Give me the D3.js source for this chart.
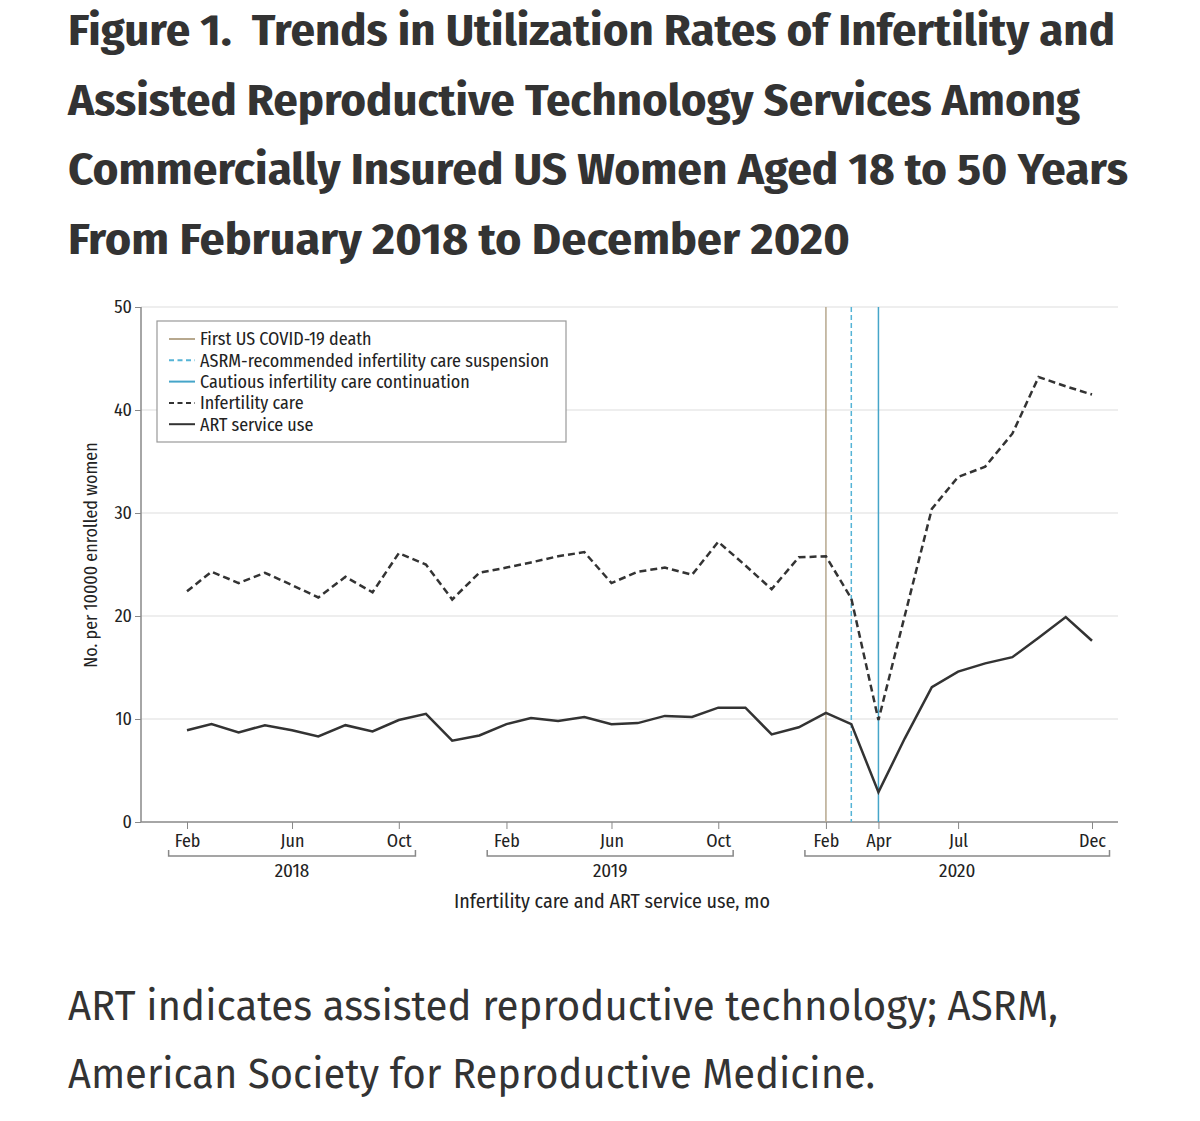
<!DOCTYPE html>
<html lang="en">
<head>
    <meta charset="UTF-8">
    <title>Figure 1</title>
    <script src="https://cdn.jsdelivr.net/npm/d3@7/dist/d3.min.js"></script>
    <style>
        body { margin: 0; background: #fff; }
        svg { display: block; }
        .title { font-family: "Fira Sans Condensed", "Roboto", "Open Sans", sans-serif; font-weight: bold; fill: #333; white-space: pre; }
        .caption { font-family: "Fira Sans", "Open Sans", "Noto Sans", sans-serif; fill: #333; }
        .chart text { font-family: "Fira Sans Condensed", "Roboto", "Open Sans", sans-serif; fill: #222; }
        .grid line { stroke: #ddd; stroke-width: 1.2; }
    </style>
</head>
<body>
<script>
    const width = 1200;
    const height = 1121;

    // monthly values, Feb 2018 .. Dec 2020
    const startMonth = new Date(2018, 1, 1);
    const infertilityCare = [
        22.4, 24.3, 23.2, 24.2, 23.0, 21.8, 23.8, 22.3, 26.1, 25.0, 21.6,
        24.2, 24.7, 25.2, 25.8, 26.2, 23.2, 24.3, 24.7, 24.0, 27.2, 24.9, 22.6,
        25.7, 25.8, 21.7, 9.9, 20.0, 30.4, 33.5, 34.5, 37.7, 43.2, 42.3, 41.5
    ];
    const artUse = [
        8.9, 9.5, 8.7, 9.4, 8.9, 8.3, 9.4, 8.8, 9.9, 10.5, 7.9,
        8.4, 9.5, 10.1, 9.8, 10.2, 9.5, 9.6, 10.3, 10.2, 11.1, 11.1, 8.5,
        9.2, 10.6, 9.5, 2.9, 8.1, 13.1, 14.6, 15.4, 16.0, 17.9, 19.9, 17.6
    ];
    const months = infertilityCare.map((d, i) => d3.timeMonth.offset(startMonth, i));

    const tickMonths = [
        new Date(2018, 1, 1), new Date(2018, 5, 1), new Date(2018, 9, 1),
        new Date(2019, 1, 1), new Date(2019, 5, 1), new Date(2019, 9, 1),
        new Date(2020, 1, 1), new Date(2020, 3, 1), new Date(2020, 6, 1), new Date(2020, 11, 1)
    ];
    const years = [
        {label: "2018", from: new Date(2018, 0, 11), to: new Date(2018, 9, 20)},
        {label: "2019", from: new Date(2019, 0, 10), to: new Date(2019, 9, 18)},
        {label: "2020", from: new Date(2020, 0, 8), to: new Date(2020, 11, 21)}
    ];
    const yTicks = [0, 10, 20, 30, 40, 50];

    const events = [
        {label: "First US COVID-19 death", date: new Date(2020, 1, 1), color: "#b7a88e", dash: null},
        {label: "ASRM-recommended infertility care suspension", date: new Date(2020, 2, 1), color: "#55b4d6", dash: "5,3"},
        {label: "Cautious infertility care continuation", date: new Date(2020, 3, 1), color: "#45a5c9", dash: null}
    ];

    const titleLines = [
        "Figure 1.  Trends in Utilization Rates of Infertility and",
        "Assisted Reproductive Technology Services Among",
        "Commercially Insured US Women Aged 18 to 50 Years",
        "From February 2018 to December 2020"
    ];
    const titleWidths = [1047, 1012, 1060, 782];
    const captionLines = [
        "ART indicates assisted reproductive technology; ASRM,",
        "American Society for Reproductive Medicine."
    ];
    const captionWidths = [990, 807];

    const svg = d3.select("body").append("svg")
            .attr("width", width).attr("height", height);

    // title
    svg.selectAll("text.title")
        .data(titleLines)
        .enter().append("text")
        .attr("class", "title")
        .attr("x", 68)
        .attr("y", (d, i) => 45 + i * 69.5)
        .attr("font-size", 43)
        .attr("textLength", (d, i) => titleWidths[i])
        .attr("lengthAdjust", "spacingAndGlyphs")
        .text(d => d);

    // caption
    svg.selectAll("text.caption")
        .data(captionLines)
        .enter().append("text")
        .attr("class", "caption")
        .attr("x", 68)
        .attr("y", (d, i) => 1020 + i * 68)
        .attr("font-size", 42)
        .attr("textLength", (d, i) => captionWidths[i])
        .attr("lengthAdjust", "spacingAndGlyphs")
        .text(d => d);

    const plotLeft = 141, plotRight = 1118, plotTop = 307, plotBottom = 822;

    const x = d3.scaleTime()
        .domain([startMonth, new Date(2020, 11, 1)])
        .range([187, 1092]);
    const y = d3.scaleLinear()
        .domain([0, 50])
        .range([plotBottom, plotTop]);

    const chart = svg.append("g").attr("class", "chart");

    // gridlines
    chart.append("g").attr("class", "grid")
        .selectAll("line")
        .data(yTicks.filter(d => d > 0))
        .enter().append("line")
        .attr("x1", plotLeft).attr("x2", plotRight)
        .attr("y1", d => y(d)).attr("y2", d => y(d));

    // y axis
    const yAxis = chart.append("g")
        .attr("transform", `translate(${plotLeft},0)`)
        .call(d3.axisLeft(y).tickValues(yTicks).tickSize(6).tickPadding(3));
    yAxis.select(".domain").attr("stroke", "#888").attr("stroke-width", 1.5)
        .attr("d", `M0,${plotTop}V${plotBottom}`);
    yAxis.selectAll(".tick line").attr("stroke", "#888");
    yAxis.selectAll(".tick text").attr("font-size", 18);

    chart.append("text")
        .attr("transform", `translate(97,555) rotate(-90)`)
        .attr("text-anchor", "middle")
        .attr("font-size", 18)
        .text("No. per 10000 enrolled women");

    // x axis
    const xAxis = chart.append("g")
        .attr("transform", `translate(0,${plotBottom})`)
        .call(d3.axisBottom(x).tickValues(tickMonths).tickFormat(d3.timeFormat("%b")).tickSize(7).tickPadding(5));
    xAxis.select(".domain").attr("stroke", "#888").attr("stroke-width", 1.5)
        .attr("d", `M${plotLeft},0H${plotRight}`);
    xAxis.selectAll(".tick line").attr("stroke", "#888");
    xAxis.selectAll(".tick text").attr("font-size", 18);

    // year brackets
    const yearG = chart.append("g").selectAll("g")
        .data(years).enter().append("g");
    yearG.append("path")
        .attr("d", d => `M${x(d.from)},${plotBottom + 28}V${plotBottom + 34}H${x(d.to)}V${plotBottom + 28}`)
        .attr("fill", "none").attr("stroke", "#888").attr("stroke-width", 1.5);
    yearG.append("text")
        .attr("x", d => (x(d.from) + x(d.to)) / 2)
        .attr("y", plotBottom + 55)
        .attr("text-anchor", "middle")
        .attr("font-size", 19)
        .text(d => d.label);

    chart.append("text")
        .attr("x", 612).attr("y", plotBottom + 86)
        .attr("text-anchor", "middle")
        .attr("font-size", 20)
        .text("Infertility care and ART service use, mo");

    // event lines
    chart.selectAll("line.event")
        .data(events).enter().append("line")
        .attr("class", "event")
        .attr("x1", d => x(d.date)).attr("x2", d => x(d.date))
        .attr("y1", plotTop).attr("y2", plotBottom)
        .attr("stroke", d => d.color)
        .attr("stroke-width", 1.5)
        .attr("stroke-dasharray", d => d.dash);

    // series
    const line = d3.line()
        .x((d, i) => x(months[i]))
        .y(d => y(d));

    chart.append("path")
        .datum(infertilityCare)
        .attr("d", line)
        .attr("fill", "none").attr("stroke", "#333")
        .attr("stroke-width", 2.5).attr("stroke-dasharray", "7,4");

    chart.append("path")
        .datum(artUse)
        .attr("d", line)
        .attr("fill", "none").attr("stroke", "#333")
        .attr("stroke-width", 2.5);

    // legend
    const legendItems = events.map(e => ({label: e.label, color: e.color, dash: e.dash}))
        .concat([
            {label: "Infertility care", color: "#333", dash: "6,4"},
            {label: "ART service use", color: "#333", dash: null}
        ]);

    const legend = chart.append("g");
    legend.append("rect")
        .attr("x", 157).attr("y", 321)
        .attr("width", 409).attr("height", 121)
        .attr("fill", "#fff").attr("stroke", "#999").attr("stroke-width", 1.2);

    const rows = legend.selectAll("g.row")
        .data(legendItems).enter().append("g")
        .attr("transform", (d, i) => `translate(0,${339 + i * 21.3})`);
    rows.append("line")
        .attr("x1", 169).attr("x2", 195)
        .attr("stroke", d => d.color)
        .attr("stroke-width", 2)
        .attr("stroke-dasharray", d => d.dash ? "5,3.5" : null);
    rows.append("text")
        .attr("x", 200).attr("dy", "0.35em")
        .attr("font-size", 18)
        .text(d => d.label);
</script>

</body>
</html>
